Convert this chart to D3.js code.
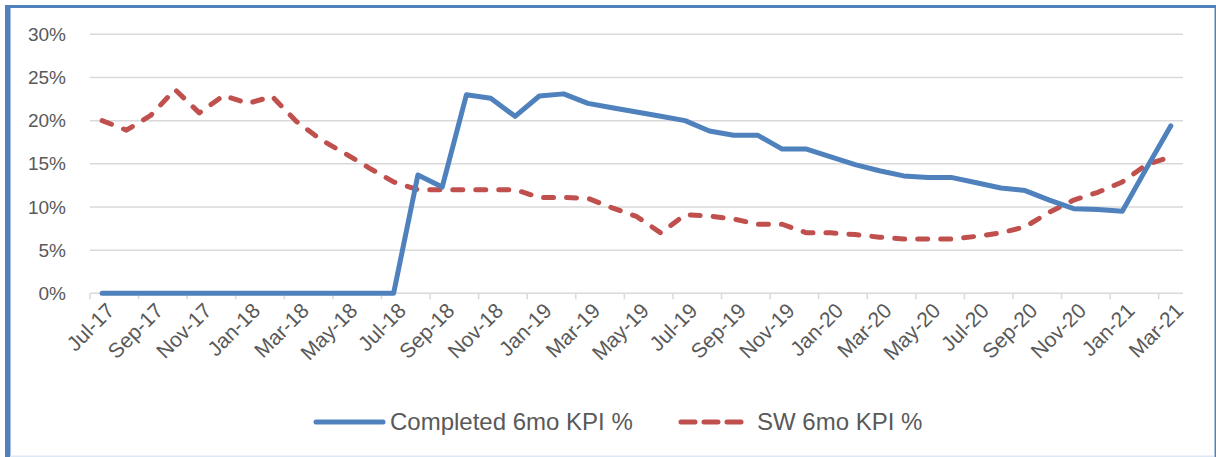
<!DOCTYPE html>
<html>
<head>
<meta charset="utf-8">
<script src="https://cdn.jsdelivr.net/npm/d3@7"></script>
<style>
  body { margin: 0; background: #fff; }
  svg text { font-family: "Liberation Sans", Arial, sans-serif; fill: #595959; }
</style>
</head>
<body>
<script>
// months on the x axis
var months = ["Jul-17","Aug-17","Sep-17","Oct-17","Nov-17","Dec-17",
  "Jan-18","Feb-18","Mar-18","Apr-18","May-18","Jun-18","Jul-18","Aug-18","Sep-18","Oct-18","Nov-18","Dec-18",
  "Jan-19","Feb-19","Mar-19","Apr-19","May-19","Jun-19","Jul-19","Aug-19","Sep-19","Oct-19","Nov-19","Dec-19",
  "Jan-20","Feb-20","Mar-20","Apr-20","May-20","Jun-20","Jul-20","Aug-20","Sep-20","Oct-20","Nov-20","Dec-20",
  "Jan-21","Feb-21","Mar-21"];

// Completed 6mo KPI % (percent)
var completed = [0,0,0,0,0,0,0,0,0,0,0,0,0,
  13.7,12.3,23.0,22.6,20.5,22.85,23.1,22.0,21.5,21.0,20.5,20.0,18.8,18.3,18.3,16.7,16.7,
  15.8,14.9,14.2,13.6,13.4,13.4,12.8,12.2,11.9,10.8,9.8,9.7,9.5,14.5,19.4];

// SW 6mo KPI % (percent)
var sw = [20.0,18.9,20.6,23.6,20.9,22.9,22.0,22.8,19.9,17.8,16.2,14.5,12.9,
  12.0,12.0,12.0,12.0,12.0,11.1,11.1,11.0,9.9,8.9,7.0,9.1,8.95,8.6,8.0,8.0,7.0,
  7.0,6.8,6.5,6.3,6.3,6.3,6.6,7.0,7.7,9.4,10.8,11.7,12.9,14.9,15.8];

var yTicks = [0,5,10,15,20,25,30];
var seriesNames = ["Completed 6mo KPI %", "SW 6mo KPI %"];

var width = 1216, height = 457;
var blue = "#4f81bd", red = "#c0504d";

var svg = d3.select("body").append("svg")
  .attr("width", width)
  .attr("height", height);

// frame edges
svg.append("rect").attr("x", 5).attr("y", 5).attr("width", 5.5).attr("height", height - 5).attr("fill", blue);
svg.append("rect").attr("x", 5).attr("y", 5).attr("width", width - 5).attr("height", 3).attr("fill", blue);
svg.append("rect").attr("x", width - 1.5).attr("y", 5).attr("width", 1.5).attr("height", height - 5).attr("fill", blue);
svg.append("rect").attr("x", 10).attr("y", height - 1.5).attr("width", width - 12).attr("height", 1.5).attr("fill", "#dde8f4");

var x = d3.scaleBand()
  .domain(months)
  .range([90, 1183])
  .padding(0);

var y = d3.scaleLinear()
  .domain([0, 30])
  .range([293.3, 34.3]);

var cx = function(m) { return x(m) + x.bandwidth() / 2; };

// gridlines
svg.append("g").selectAll("line")
  .data(yTicks)
  .enter().append("line")
  .attr("x1", 90).attr("x2", 1183)
  .attr("y1", function(d) { return y(d); })
  .attr("y2", function(d) { return y(d); })
  .attr("stroke", "#d9d9d9")
  .attr("stroke-width", 1.5);

// y labels
svg.append("g").selectAll("text")
  .data(yTicks)
  .enter().append("text")
  .attr("x", 66)
  .attr("y", function(d) { return y(d); })
  .attr("dy", "0.35em")
  .attr("text-anchor", "end")
  .style("font-size", "19px")
  .text(function(d) { return d + "%"; });

// tick marks between categories, every 2 months
var tickIdx = d3.range(0, months.length, 2);
svg.append("g").selectAll("line")
  .data(tickIdx)
  .enter().append("line")
  .attr("x1", function(i) { return x(months[i]); })
  .attr("x2", function(i) { return x(months[i]); })
  .attr("y1", y(0)).attr("y2", y(0) + 6)
  .attr("stroke", "#d9d9d9")
  .attr("stroke-width", 1.5);

// x labels, rotated
svg.append("g").selectAll("text")
  .data(tickIdx)
  .enter().append("text")
  .attr("transform", function(i) { return "translate(" + (cx(months[i]) + 3) + "," + (y(0) + 8) + ") rotate(-45)"; })
  .attr("text-anchor", "end")
  .attr("dy", "0.72em")
  .style("font-size", "21px")
  .text(function(i) { return months[i]; });

var line = d3.line()
  .x(function(d, i) { return cx(months[i]); })
  .y(function(d) { return y(d); });

svg.append("path")
  .datum(sw)
  .attr("d", line)
  .attr("fill", "none")
  .attr("stroke", red)
  .attr("stroke-width", 5)
  .attr("stroke-linecap", "round")
  .attr("stroke-linejoin", "round")
  .attr("stroke-dasharray", "10,13");

svg.append("path")
  .datum(completed)
  .attr("d", line)
  .attr("fill", "none")
  .attr("stroke", blue)
  .attr("stroke-width", 5)
  .attr("stroke-linecap", "round")
  .attr("stroke-linejoin", "round");

// legend
var legend = svg.append("g");
legend.append("line")
  .attr("x1", 316).attr("x2", 383).attr("y1", 422).attr("y2", 422)
  .attr("stroke", blue).attr("stroke-width", 5).attr("stroke-linecap", "round");
legend.append("text")
  .attr("x", 390).attr("y", 430)
  .style("font-size", "24px")
  .text(seriesNames[0]);
legend.append("line")
  .attr("x1", 681).attr("x2", 741).attr("y1", 422).attr("y2", 422)
  .attr("stroke", red).attr("stroke-width", 5).attr("stroke-linecap", "round")
  .attr("stroke-dasharray", "14,9");
legend.append("text")
  .attr("x", 757).attr("y", 430)
  .style("font-size", "24px")
  .text(seriesNames[1]);
</script>
</body>
</html>
